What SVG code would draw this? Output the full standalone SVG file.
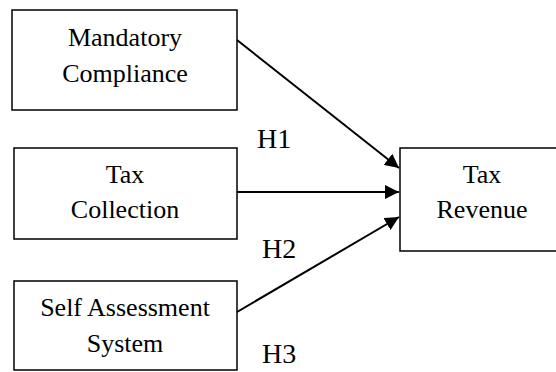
<svg xmlns="http://www.w3.org/2000/svg" width="556" height="372" viewBox="0 0 556 372">
<style>
.box{fill:#fff;stroke:#000;stroke-width:1.5}
.t{font-family:"Liberation Serif",serif;font-size:26px;fill:#000;text-anchor:middle}
.h{font-family:"Liberation Serif",serif;font-size:28px;fill:#000}
.c{stroke:#000;stroke-width:2;fill:none;marker-end:url(#ah)}
</style>
<defs>
<marker id="ah" viewBox="0 0 10 10" refX="10" refY="5" markerWidth="7" markerHeight="7" markerUnits="strokeWidth" orient="auto">
<path d="M0,0 L10,5 L0,10 z" fill="#000"/>
</marker>
</defs>
<rect width="556" height="372" fill="#fff"/>
<g id="mandatory">
<rect class="box" x="12" y="10" width="225" height="100"/>
<text class="t" x="125" y="46">Mandatory</text>
<text class="t" x="125" y="82">Compliance</text>
</g>
<g id="collection">
<rect class="box" x="14" y="148" width="223" height="91"/>
<text class="t" x="125" y="183">Tax</text>
<text class="t" x="125" y="218">Collection</text>
</g>
<g id="selfassessment">
<rect class="box" x="14" y="281" width="223" height="89"/>
<text class="t" x="125" y="316">Self Assessment</text>
<text class="t" x="125" y="352">System</text>
</g>
<g id="revenue">
<rect class="box" x="400" y="148" width="166" height="103"/>
<text class="t" x="482" y="183">Tax</text>
<text class="t" x="482" y="218">Revenue</text>
</g>
<g id="connectors">
<line class="c" x1="237" y1="40" x2="399" y2="168"/>
<line class="c" x1="237" y1="192" x2="399" y2="192"/>
<line class="c" x1="237" y1="312" x2="399" y2="217"/>
</g>
<g id="labels">
<text class="h" x="257" y="148">H1</text>
<text class="h" x="262" y="258">H2</text>
<text class="h" x="262" y="363">H3</text>
</g>
</svg>
